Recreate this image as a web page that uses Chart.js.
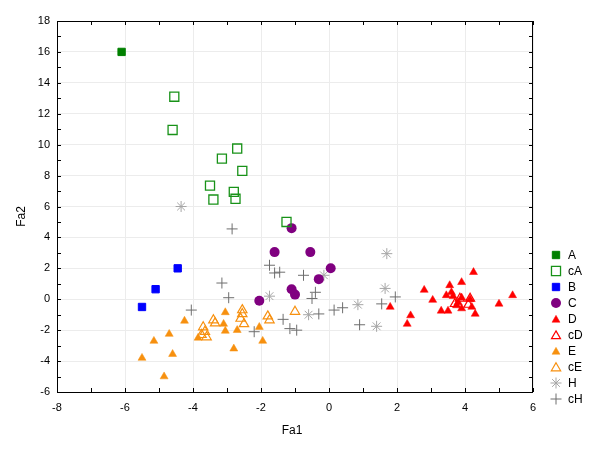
<!DOCTYPE html>
<html><head><meta charset="utf-8">
<script src="https://cdn.jsdelivr.net/npm/chart.js@4.4.0/dist/chart.umd.min.js"></script>
<style>html,body{margin:0;padding:0;background:#fff}canvas{display:block}</style>
</head><body>
<canvas id="c" width="600" height="459"></canvas>
<script>
// ---- data ----
const seriesNames = ['A','cA','B','C','D','cD','E','cE','H','cH'];
const xTickValues = [-8,-6,-4,-2,0,2,4,6];
const yTickValues = [-6,-4,-2,0,2,4,6,8,10,12,14,16,18];
const xTitle = 'Fa1';
const yTitle = 'Fa2';

const dataA  = [[-6.1,16.0]];
const dataCA = [[-4.55,13.1],[-4.6,10.95],[-2.7,9.75],[-3.15,9.1],[-2.55,8.3],[-3.5,7.35],[-2.8,6.95],[-2.75,6.5],[-3.4,6.45],[-1.25,5.0]];
const dataB  = [[-4.45,2.0],[-5.1,0.65],[-5.5,-0.5]];
const dataC  = [[-1.1,4.6],[-1.6,3.05],[-0.55,3.05],[0.05,2.0],[-0.3,1.3],[-1.1,0.65],[-1.0,0.3],[-2.05,-0.1]];
const dataD  = [[4.25,1.75],[3.9,1.1],[3.55,0.9],[2.8,0.6],[3.6,0.45],[3.45,0.25],[3.65,0.2],[3.05,-0.05],[3.8,-0.2],[4.15,0.0],[3.9,0.1],[1.8,-0.5],[2.4,-1.05],[2.3,-1.6],[3.3,-0.75],[3.5,-0.75],[3.75,-0.4],[3.9,-0.6],[4.2,-0.5],[4.3,-0.95],[5.0,-0.3],[5.4,0.25]];
const dataCD = [[3.85,0.05],[4.1,-0.35],[3.7,-0.3],[4.15,0.05]];
const dataE  = [[-4.25,-1.4],[-4.7,-2.25],[-5.15,-2.7],[-5.5,-3.8],[-4.6,-3.55],[-4.85,-5.0],[-3.85,-2.5],[-3.05,-0.85],[-3.1,-1.6],[-3.05,-2.05],[-2.7,-2.0],[-2.8,-3.2],[-2.05,-1.8],[-1.95,-2.7]];
const dataCE = [[-3.7,-1.8],[-3.65,-2.1],[-3.6,-2.45],[-3.75,-2.3],[-3.4,-1.35],[-3.35,-1.55],[-2.55,-0.7],[-2.55,-0.95],[-2.6,-1.25],[-2.5,-1.6],[-1.8,-1.1],[-1.75,-1.35],[-1.0,-0.8]];
const dataH  = [[-4.35,6.0],[1.7,2.95],[-0.15,1.55],[-1.75,0.2],[1.65,0.7],[-0.6,-1.0],[0.85,-0.35],[1.4,-1.75]];
const dataCH = [[-3.15,1.05],[-2.95,0.1],[-4.05,-0.7],[-2.85,4.55],[-1.75,2.2],[-1.6,1.7],[-1.45,1.75],[-0.75,1.55],[-0.4,0.45],[-0.5,0.05],[1.55,-0.3],[1.95,0.15],[-1.35,-1.3],[-1.15,-1.9],[-0.95,-2.0],[-0.3,-0.95],[0.15,-0.7],[0.9,-1.65],[-2.2,-2.1],[0.4,-0.55]];

const allData = [dataA,dataCA,dataB,dataC,dataD,dataCD,dataE,dataCE,dataH,dataCH];

// ---- styles ----
const GREEN='#008000', BLUE='#0000ff', PURPLE='#800080', RED='#ff0000', ORANGE='#f7900f', LGRAY='#a6a6a6', DGRAY='#6e6e6e';
const styles = [
  {ps:'rect', r:5.2, bg:GREEN, bc:GREEN, bw:1},
  {ps:'rect', r:6.4, bg:'rgba(0,0,0,0)', bc:'#189218', bw:1.3},
  {ps:'rect', r:5.2, bg:BLUE, bc:BLUE, bw:1},
  {ps:'circle', r:5, bg:PURPLE, bc:PURPLE, bw:0},
  {ps:'triangle', r:4.6, bg:RED, bc:RED, bw:0.5},
  {ps:'triangle', r:5.2, bg:'rgba(0,0,0,0)', bc:RED, bw:1.2},
  {ps:'triangle', r:4.6, bg:ORANGE, bc:ORANGE, bw:0.5},
  {ps:'triangle', r:5.4, bg:'rgba(0,0,0,0)', bc:ORANGE, bw:1.2},
  {ps:'star', r:5.5, bg:LGRAY, bc:LGRAY, bw:1},
  {ps:'cross', r:5.5, bg:DGRAY, bc:DGRAY, bw:1}
];

const datasets = seriesNames.map((n,i)=>({
  label:n,
  data: allData[i].map(p=>({x:p[0],y:p[1]})),
  pointStyle: styles[i].ps,
  pointRadius: styles[i].r,
  pointHoverRadius: styles[i].r,
  backgroundColor: styles[i].bg,
  borderColor: styles[i].bc,
  borderWidth: styles[i].bw,
  showLine:false
}));

const FONT = 'Liberation Sans, Arial, sans-serif';

const framePlugin = {
  id:'frame',
  afterDraw(chart){
    const ctx = chart.ctx, a = chart.chartArea;
    const xs = chart.scales.x, ys = chart.scales.y;
    ctx.save();
    ctx.strokeStyle = '#000';
    ctx.lineWidth = 1;
    ctx.strokeRect(Math.round(a.left)+0.5, Math.round(a.top)+0.5, Math.round(a.right-a.left)-1, Math.round(a.bottom-a.top));
    ctx.beginPath();
    for (let v=xs.min; v<=xs.max; v+=1){
      const px = Math.round(xs.getPixelForValue(v))+0.5;
      ctx.moveTo(px, a.bottom); ctx.lineTo(px, a.bottom-4);
      ctx.moveTo(px, a.top); ctx.lineTo(px, a.top+4);
    }
    for (let v=ys.min; v<=ys.max; v+=1){
      const py = Math.round(ys.getPixelForValue(v))+0.5;
      ctx.moveTo(a.left, py); ctx.lineTo(a.left+4, py);
      ctx.moveTo(a.right, py); ctx.lineTo(a.right-4, py);
    }
    ctx.stroke();
    // axis titles
    ctx.fillStyle = '#000';
    ctx.font = '12px ' + FONT;
    ctx.textAlign = 'center'; ctx.textBaseline = 'middle';
    ctx.fillText(xTitle, (a.left+a.right)/2 - 3, 431);
    ctx.save();
    ctx.translate(22, (a.top+a.bottom)/2 + 10);
    ctx.rotate(-Math.PI/2);
    ctx.fillText(yTitle, 0, 0);
    ctx.restore();
    // legend
    const lx = 556, tx = 568, y0 = 255, step = 16;
    ctx.textAlign = 'left';
    ctx.font = '12px ' + FONT;
    seriesNames.forEach((n,i)=>{
      const s = styles[i], y = y0 + i*step;
      ctx.save();
      ctx.fillStyle = s.bg; ctx.strokeStyle = s.bc; ctx.lineWidth = s.bw || 1;
      ctx.beginPath();
      if (s.ps==='rect'){
        const h = s.r*Math.SQRT1_2;
        ctx.rect(lx-h, y-h, 2*h, 2*h);
        ctx.fill(); if (s.bw) ctx.stroke();
      } else if (s.ps==='circle'){
        ctx.arc(lx, y, s.r, 0, Math.PI*2); ctx.fill();
      } else if (s.ps==='triangle'){
        for (let k=0;k<3;k++){
          const ang = k*2*Math.PI/3;
          const px = lx + Math.sin(ang)*s.r, py = y - Math.cos(ang)*s.r + s.r*0.2;
          if (k===0) ctx.moveTo(px,py); else ctx.lineTo(px,py);
        }
        ctx.closePath(); ctx.fill(); ctx.stroke();
      } else if (s.ps==='star' || s.ps==='cross'){
        const r = s.r;
        ctx.moveTo(lx-r, y); ctx.lineTo(lx+r, y);
        ctx.moveTo(lx, y-r); ctx.lineTo(lx, y+r);
        if (s.ps==='star'){
          const d = r*Math.SQRT1_2;
          ctx.moveTo(lx-d, y-d); ctx.lineTo(lx+d, y+d);
          ctx.moveTo(lx-d, y+d); ctx.lineTo(lx+d, y-d);
        }
        ctx.stroke();
      }
      ctx.restore();
      ctx.fillStyle = '#000';
      ctx.fillText(n, tx, y+1);
    });
    ctx.restore();
  }
};

new Chart(document.getElementById('c'), {
  type:'scatter',
  data:{datasets},
  options:{
    responsive:false,
    animation:false,
    devicePixelRatio:1,
    layout:{padding:{top:21, right:67, left:0, bottom:0}},
    plugins:{legend:{display:false}, tooltip:{enabled:false}},
    scales:{
      x:{
        type:'linear', min:-8, max:6,
        afterBuildTicks(s){ s.ticks = xTickValues.map(v=>({value:v})); },
        afterFit(s){ s.height = 67; },
        ticks:{color:'#000', font:{family:FONT, size:11}, padding:9},
        grid:{color:'#ececec', drawTicks:false, lineWidth:1},
        border:{display:false}
      },
      y:{
        type:'linear', min:-6, max:18,
        afterBuildTicks(s){ s.ticks = yTickValues.map(v=>({value:v})); },
        afterFit(s){ s.width = 57; },
        ticks:{color:'#000', font:{family:FONT, size:11}, padding:7},
        grid:{color:'#ececec', drawTicks:false, lineWidth:1},
        border:{display:false}
      }
    }
  },
  plugins:[framePlugin]
});
</script>
</body></html>
